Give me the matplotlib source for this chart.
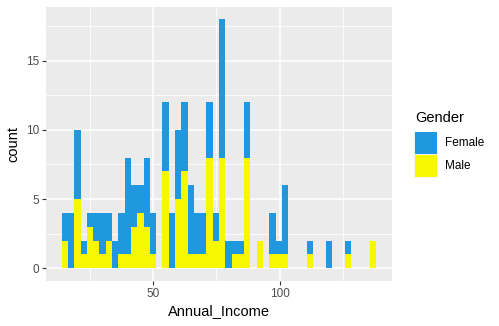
import matplotlib
matplotlib.use("Agg")
import matplotlib.pyplot as plt
from matplotlib.patches import Rectangle
import numpy as np

# histogram of Annual_Income, 50 bins, stacked by Gender
income_min = 15
income_max = 137
n_bins = 50
male_counts = [2, 0, 5, 1, 3, 2, 1, 2, 0, 1,
               1, 3, 4, 3, 1, 0, 7, 0, 5, 7,
               1, 1, 1, 8, 2, 8, 0, 1, 1, 8,
               0, 2, 0, 1, 1, 1, 0, 0, 0, 1,
               0, 0, 0, 0, 0, 1, 0, 0, 0, 2]
female_counts = [2, 4, 5, 1, 1, 2, 3, 2, 2, 3,
                 7, 3, 2, 5, 3, 0, 5, 4, 5, 5,
                 5, 3, 3, 4, 2, 10, 2, 1, 1, 4,
                 0, 0, 0, 3, 1, 5, 0, 0, 0, 1,
                 0, 0, 2, 0, 0, 1, 0, 0, 0, 0]
genders = ["Female", "Male"]
colors = {"Female": "#1F98E0", "Male": "#F7F700"}
x_ticks = [50, 100]
y_ticks = [0, 5, 10, 15]

plt.rcParams['font.family'] = ['Liberation Sans', 'DejaVu Sans']

binw = (income_max - income_min) / (n_bins - 1)
centers = income_min + np.arange(n_bins) * binw
male = np.array(male_counts)
female = np.array(female_counts)

fig = plt.figure(figsize=(4.99, 3.26), dpi=100)
ax = fig.add_axes([46/499, 1-280.7/326, (392-46)/499, (280.7-6.7)/326])
ax.set_facecolor("#EBEBEB")

ax.bar(centers, male, width=binw, color=colors["Male"], linewidth=0, zorder=3)
ax.bar(centers, female, width=binw, bottom=male, color=colors["Female"], linewidth=0, zorder=3)

lo = centers[0] - binw/2
hi = centers[-1] + binw/2
pad = 0.05*(hi - lo)
ax.set_xlim(lo - pad, hi + pad)
ymax = (male + female).max()
ax.set_ylim(-0.05*ymax, ymax*1.05)

ax.set_xticks(x_ticks)
ax.set_yticks(y_ticks)
ax.set_xticks([25, 75, 125], minor=True)
ax.set_yticks([2.5, 7.5, 12.5, 17.5], minor=True)
ax.grid(which='major', color='white', linewidth=1.1, zorder=1)
ax.grid(which='minor', color='white', linewidth=0.55, zorder=1)
ax.set_axisbelow(True)
for s in ax.spines.values():
    s.set_visible(False)
ax.tick_params(which='major', length=3, width=0.8, color='#333333',
               labelcolor='#4D4D4D', labelsize=8.5, pad=2)
ax.tick_params(which='minor', length=0)

ax.set_xlabel("Annual_Income", fontsize=10.5, color='black', labelpad=3)
ax.set_ylabel("count", fontsize=10.5, color='black', labelpad=4)

# legend drawn by hand like ggplot's guide
fig.text(415/499, 1-118/326, "Gender", fontsize=10.5, va='center', ha='left')
key_tops = [131.5, 154.5]
for g, top in zip(genders, key_tops):
    fig.add_artist(Rectangle((414/499, 1-(top+23)/326), 23/499, 23/326,
                             facecolor='#F2F2F2', edgecolor='none', transform=fig.transFigure))
    fig.add_artist(Rectangle((415/499, 1-(top+22)/326), 21.5/499, 21.5/326,
                             facecolor=colors[g], edgecolor='none', transform=fig.transFigure))
    fig.text(445/499, 1-(top+11.5)/326, g, fontsize=8.5, va='center', ha='left')

fig.savefig("out.png", dpi=100)
